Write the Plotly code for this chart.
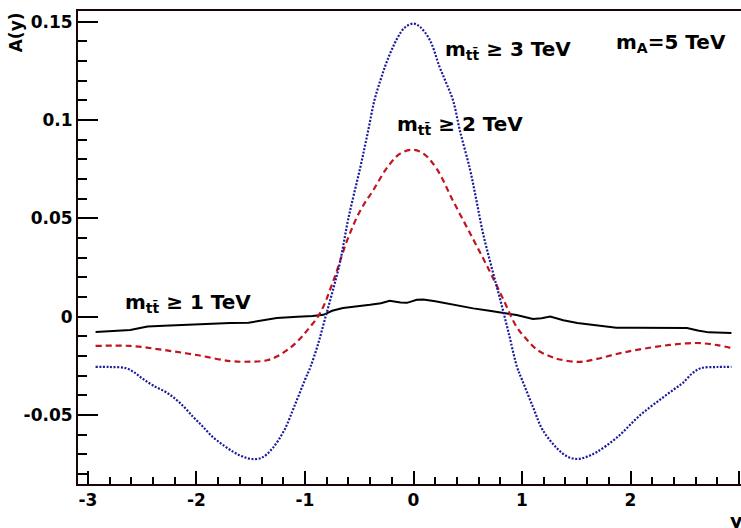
import plotly.graph_objects as go

# Forward-backward asymmetry A(y) for three m_tt thresholds, m_A = 5 TeV
x_1tev = [-2.93, -2.75, -2.61, -2.52, -2.45, -2.30, -2.15, -1.90, -1.69, -1.52,
          -1.40, -1.26, -1.07, -0.93, -0.83, -0.75, -0.65, -0.50, -0.40, -0.30,
          -0.22, -0.12, -0.06, 0.03, 0.09, 0.20, 0.36, 0.55, 0.70, 0.83,
          0.95, 1.10, 1.18, 1.26, 1.38, 1.51, 1.70, 1.87, 2.05, 2.21,
          2.40, 2.52, 2.62, 2.72, 2.93]
a_1tev = [-0.0078, -0.0074, -0.0068, -0.0058, -0.0050, -0.0046, -0.0042, -0.0036, -0.0032, -0.0031,
          -0.0020, -0.0007, 0.0000, 0.0003, 0.0009, 0.0030, 0.0044, 0.0052, 0.0060, 0.0068,
          0.0081, 0.0072, 0.0070, 0.0086, 0.0087, 0.0078, 0.0060, 0.0042, 0.0030, 0.0019,
          0.0008, -0.0012, -0.0008, 0.0000, -0.0018, -0.0032, -0.0046, -0.0057, -0.0056, -0.0057,
          -0.0057, -0.0058, -0.0070, -0.0080, -0.0083]

x_2tev = [-2.93, -2.61, -2.31, -2.00, -1.69, -1.50, -1.35, -1.25, -1.14, -1.06,
          -0.98, -0.86, -0.74, -0.61, -0.49, -0.37, -0.24, -0.12, 0.00, 0.10,
          0.22, 0.36, 0.52, 0.68, 0.83, 0.95, 1.05, 1.14, 1.25, 1.35,
          1.53, 1.69, 1.87, 2.06, 2.36, 2.61, 2.80, 2.93]
a_2tev = [-0.0149, -0.0149, -0.0169, -0.0195, -0.0226, -0.0229, -0.0222, -0.0200, -0.0160, -0.0120,
          -0.0070, 0.0019, 0.0180, 0.0390, 0.0540, 0.0644, 0.0760, 0.0830, 0.0848, 0.0825,
          0.0746, 0.0593, 0.0425, 0.0255, 0.0085, -0.0052, -0.0120, -0.0169, -0.0200, -0.0218,
          -0.0230, -0.0215, -0.0190, -0.0169, -0.0144, -0.0134, -0.0145, -0.0160]

x_3tev = [-2.93, -2.80, -2.65, -2.57, -2.49, -2.40, -2.27, -2.15, -2.03, -1.94,
          -1.85, -1.75, -1.66, -1.58, -1.49, -1.40, -1.30, -1.19, -1.10, -1.00,
          -0.95, -0.88, -0.82, -0.75, -0.68, -0.60, -0.49, -0.42, -0.36, -0.30,
          -0.24, -0.15, -0.08, 0.00, 0.06, 0.15, 0.24, 0.30, 0.364, 0.43,
          0.52, 0.58, 0.64, 0.72, 0.80, 0.88, 0.954, 1.00, 1.10, 1.19,
          1.32, 1.42, 1.51, 1.60, 1.69, 1.87, 2.09, 2.27, 2.40, 2.48,
          2.57, 2.65, 2.80, 2.93]
a_3tev = [-0.0255, -0.0256, -0.0262, -0.0285, -0.0318, -0.0350, -0.0388, -0.0440, -0.0510, -0.0560,
          -0.0612, -0.0655, -0.0688, -0.0710, -0.0724, -0.0718, -0.0670, -0.0576, -0.0458, -0.0321,
          -0.0256, -0.0140, -0.0020, 0.0120, 0.0270, 0.0500, 0.0760, 0.0940, 0.1100, 0.1210,
          0.1305, 0.1415, 0.1470, 0.1490, 0.1473, 0.1407, 0.1270, 0.1190, 0.1100, 0.0940,
          0.0750, 0.0590, 0.0425, 0.0250, 0.0085, -0.0090, -0.0256, -0.0321, -0.0458, -0.0576,
          -0.0668, -0.0712, -0.0724, -0.0712, -0.0688, -0.0617, -0.0500, -0.0423, -0.0370, -0.0338,
          -0.0288, -0.0262, -0.0256, -0.0255]

x_ticks = [-3, -2, -1, 0, 1, 2, 3]
x_ticktext = ["-3", "-2", "-1", "0", "1", "2", "3"]
y_ticks = [-0.05, 0, 0.05, 0.1, 0.15]
y_ticktext = ["-0.05", "0", "0.05", "0.1", "0.15"]

FONT = "DejaVu Sans, Liberation Sans, sans-serif"
TBAR = "tt\u0304"

fig = go.Figure()
fig.add_trace(go.Scatter(x=x_1tev, y=a_1tev, mode="lines",
                         line=dict(color="black", width=2)))
fig.add_trace(go.Scatter(x=x_2tev, y=a_2tev, mode="lines", line_shape="spline",
                         line=dict(color="#c0141e", width=2.2, dash="6px,4px")))
fig.add_trace(go.Scatter(x=x_3tev, y=a_3tev, mode="lines", line_shape="spline",
                         line=dict(color="#1a1a9a", width=2.2, dash="2px,1.6px")))

label_font = dict(family=FONT, size=20, color="black", weight="bold")
labels = [
    (0.272, 0.1356, f"m<sub>{TBAR}</sub> ≥ 3 TeV"),
    (-0.17, 0.0975, f"m<sub>{TBAR}</sub> ≥ 2 TeV"),
    (-2.677, 0.0070, f"m<sub>{TBAR}</sub> ≥ 1 TeV"),
    (1.848, 0.1390, "m<sub>A</sub>=5 TeV"),
]
for lx, ly, txt in labels:
    fig.add_annotation(x=lx, y=ly, xref="x", yref="y", text=txt, showarrow=False,
                       xanchor="left", yanchor="middle", font=label_font)

# axis titles in the ROOT style: top of y axis, right end of x axis
fig.add_annotation(x=-0.0935, y=0.955, xref="paper", yref="paper", text="A(y)",
                   textangle=-90, showarrow=False, xanchor="center", yanchor="middle",
                   font=dict(family=FONT, size=17, color="black", weight="bold"))
fig.add_annotation(x=0.9925, y=-0.078, xref="paper", yref="paper", text="y",
                   showarrow=False, xanchor="center", yanchor="middle",
                   font=dict(family=FONT, size=19, color="black", weight="bold"))

fig.update_layout(
    width=741, height=528,
    margin=dict(l=78, r=0, t=11, b=44),
    paper_bgcolor="white", plot_bgcolor="white",
    showlegend=False,
)
fig.update_xaxes(
    range=[-3.092, 3.018], showgrid=False, zeroline=False,
    showline=True, linecolor="#1a0505", linewidth=2, mirror=True,
    ticks="inside", ticklen=13, tickwidth=1.5, tickcolor="black",
    tickvals=x_ticks, ticktext=x_ticktext,
    minor=dict(ticks="inside", ticklen=7, tickwidth=1.5, tickcolor="black", dtick=0.2, showgrid=False),
    tickfont=dict(family=FONT, size=17, color="black", weight="bold"),
)
fig.update_yaxes(
    range=[-0.0851, 0.1554], showgrid=False, zeroline=False,
    showline=True, linecolor="#1a0505", linewidth=2,
    ticks="inside", ticklen=20, tickwidth=1.5, tickcolor="black",
    tickvals=y_ticks, ticktext=y_ticktext,
    minor=dict(ticks="inside", ticklen=9, tickwidth=1.5, tickcolor="black", dtick=0.01, showgrid=False),
    tickfont=dict(family=FONT, size=17, color="black", weight="bold"),
)

fig.write_html("out.html")
